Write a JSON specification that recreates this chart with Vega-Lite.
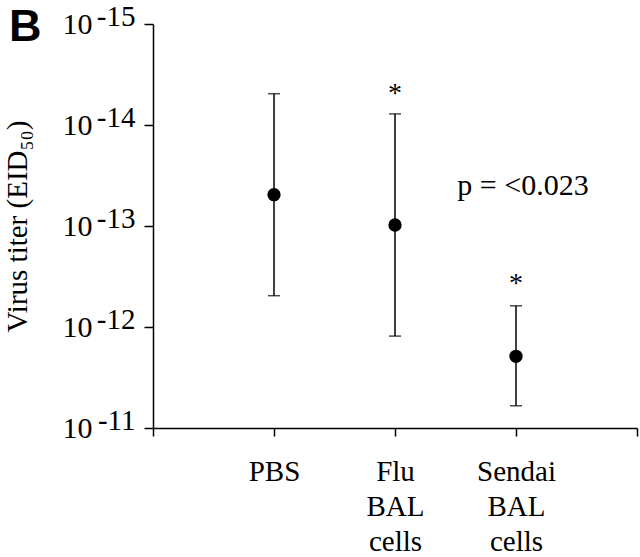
{
  "$schema": "https://vega.github.io/schema/vega-lite/v6.json",
  "width": 484,
  "height": 404,
  "autosize": {"type": "none"},
  "padding": {"left": 153, "top": 24, "right": 3, "bottom": 129},
  "background": "white",
  "title": {"text": "B", "anchor": "start", "frame": "bounds", "font": "Liberation Sans, Arial, sans-serif", "fontWeight": "bold", "fontSize": 45, "color": "black", "baseline": "top", "offset": -48, "dx": 6},
  "config": {"view": {"stroke": null}, "font": "Liberation Serif, Times New Roman, serif"},
  "datasets": {
    "groups": [
      {"group": "PBS", "mean": -13.31, "lo": -12.31, "hi": -14.31},
      {"group": "Flu BAL cells", "mean": -13.01, "lo": -11.91, "hi": -14.11},
      {"group": "Sendai BAL cells", "mean": -11.71, "lo": -11.22, "hi": -12.21}
    ],
    "notes": [
      {"group": "Flu BAL cells", "pos": -14.23, "note": "*"},
      {"group": "Sendai BAL cells", "pos": -12.35, "note": "*"}
    ],
    "pnote": [
      {"group": "Sendai BAL cells", "pos": -13.307, "note": "p = <0.023"}
    ]
  },
  "encoding": {
    "x": {
      "field": "group",
      "type": "nominal",
      "scale": {"type": "point", "domain": ["", "PBS", "Flu BAL cells", "Sendai BAL cells", " "], "padding": 0},
      "axis": {
        "title": null,
        "labelExpr": "split(datum.label, ' ')",
        "labelAngle": 0,
        "labelFont": "Liberation Serif, Times New Roman, serif",
        "labelFontSize": 29,
        "labelLineHeight": 35,
        "labelBaseline": "top",
        "labelAlign": "center",
        "labelPadding": 21,
        "labelColor": "black",
        "tickSize": 8,
        "tickColor": "black",
        "tickWidth": 1.5,
        "domainColor": "black",
        "domainWidth": 1.5,
        "grid": false,
        "labelOverlap": false
      }
    }
  },
  "layer": [
    {
      "data": {"name": "groups"},
      "mark": {"type": "rule", "color": "black", "strokeWidth": 1.5},
      "encoding": {
        "y": {
          "field": "lo",
          "type": "quantitative",
          "scale": {"domain": [-15, -11], "reverse": true, "nice": false, "zero": false},
          "axis": {
            "orient": "left",
            "values": [-15, -14, -13, -12, -11],
            "labelExpr": "'10'",
            "labelFont": "Liberation Serif, Times New Roman, serif",
            "labelFontSize": 30,
            "labelColor": "black",
            "labelAlign": "right",
            "labelBaseline": "middle",
            "labelPadding": 52,
            "labelFlush": false,
            "labelOverlap": false,
            "tickSize": 9,
            "tickColor": "black",
            "tickWidth": 1.5,
            "domainColor": "black",
            "domainWidth": 1.5,
            "grid": false,
            "title": "Virus titer (EID₅₀)",
            "titleFont": "Liberation Serif, Times New Roman, serif",
            "titleFontSize": 29,
            "titleFontWeight": "normal",
            "titleColor": "black",
            "titlePadding": 30
          }
        },
        "y2": {"field": "hi"}
      }
    },
    {
      "data": {"name": "groups"},
      "mark": {"type": "tick", "orient": "horizontal", "color": "black", "size": 12, "thickness": 1.5},
      "encoding": {"y": {"field": "lo", "type": "quantitative", "axis": null}}
    },
    {
      "data": {"name": "groups"},
      "mark": {"type": "tick", "orient": "horizontal", "color": "black", "size": 12, "thickness": 1.5},
      "encoding": {"y": {"field": "hi", "type": "quantitative", "axis": null}}
    },
    {
      "data": {"name": "groups"},
      "mark": {"type": "circle", "color": "black", "opacity": 1, "size": 177},
      "encoding": {
        "y": {
          "field": "mean",
          "type": "quantitative",
          "axis": {
            "orient": "left",
            "values": [-15, -14, -13, -12, -11],
            "labelExpr": "'-' + abs(datum.value)",
            "labelFont": "Liberation Serif, Times New Roman, serif",
            "labelFontSize": 29,
            "labelColor": "black",
            "labelAlign": "right",
            "labelBaseline": "middle",
            "labelPadding": 18,
            "labelOffset": -8,
            "labelFlush": false,
            "labelOverlap": false,
            "ticks": false,
            "tickSize": 0,
            "domain": false,
            "grid": false,
            "title": null
          }
        }
      }
    },
    {
      "data": {"name": "notes"},
      "mark": {"type": "text", "font": "Liberation Serif, Times New Roman, serif", "fontSize": 28, "color": "black", "baseline": "alphabetic", "align": "center"},
      "encoding": {
        "y": {"field": "pos", "type": "quantitative", "axis": null},
        "text": {"field": "note"}
      }
    },
    {
      "data": {"name": "pnote"},
      "mark": {"type": "text", "font": "Liberation Serif, Times New Roman, serif", "fontSize": 30, "color": "black", "baseline": "alphabetic", "align": "center", "dx": 7},
      "encoding": {
        "y": {"field": "pos", "type": "quantitative", "axis": null},
        "text": {"field": "note"}
      }
    }
  ],
  "resolve": {"axis": {"y": "independent"}}
}
